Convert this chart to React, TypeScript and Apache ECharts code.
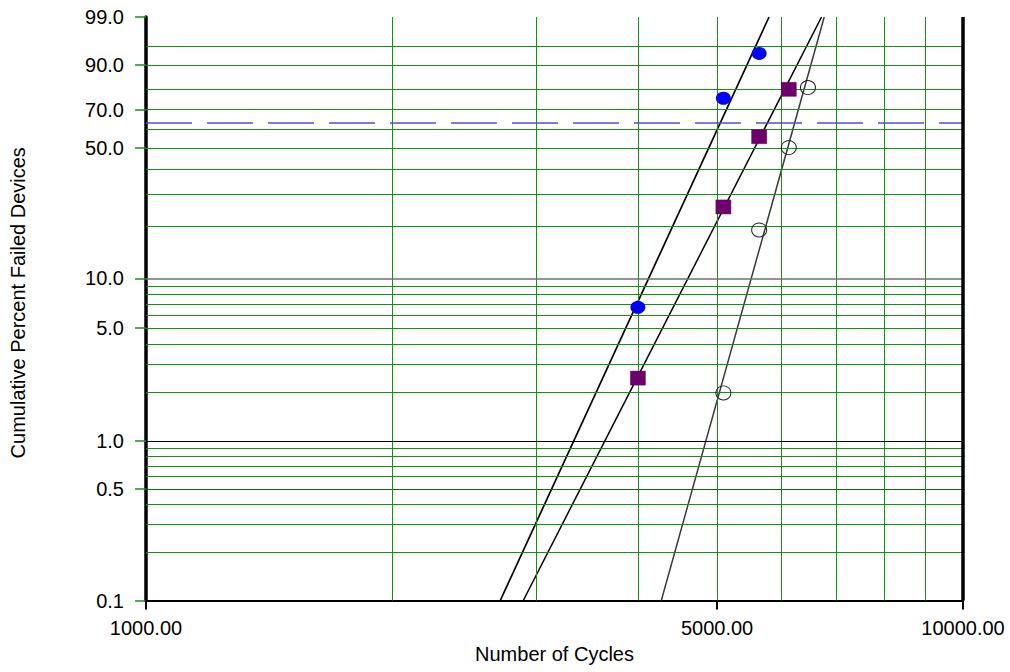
import React, { useEffect, useRef } from "react";
import * as echarts from "echarts";

// Observed data (cycles, cumulative percent failed)
const blueCycles = [4000, 5090, 5630];
const bluePct = [6.7, 75.9, 93.4];
const purpleCycles = [4000, 5090, 5630, 6120];
const purplePct = [2.46, 25.6, 55.8, 80.2];
const openCycles = [5090, 5630, 6120, 6460];
const openPct = [1.99, 19.1, 50.2, 81.0];

// Fitted Weibull lines, endpoints at 0.1% and 99%
const fitPct = [0.1, 99];
const blueFitCycles = [2714, 5789];
const purpleFitCycles = [2896, 6712];
const openFitCycles = [4273, 6763];

// Axis ticks / grid
const yTickPct = [0.1, 0.5, 1, 5, 10, 50, 70, 90, 99];
const xTickCycles = [1000, 5000, 10000];
const hGridPct = [95, 90, 80, 70, 60, 50, 40, 30, 20, 9, 8, 7, 6, 5, 4, 3, 2, 0.9, 0.8, 0.7, 0.6, 0.4, 0.3, 0.2];
const vGridCycles = [2000, 3000, 4000, 5000, 6000, 7000, 8000, 9000];
const charLifePct = 63.2;

const w = (p: number) => Math.log(-Math.log(1 - p / 100));
const invW = (v: number) => 100 * (1 - Math.exp(-Math.exp(v)));

const FONT = "'Liberation Sans', Arial, sans-serif";
const GREEN = "#159015";

export default function App() {
  const ref = useRef<HTMLDivElement>(null);
  useEffect(() => {
    if (!ref.current) return;
    const chart = echarts.init(ref.current, undefined, { renderer: "svg" });
    const green = (width = 1, color = GREEN) => ({ color, width, type: "solid" as const });
    const markData: any[] = [
      ...hGridPct.map((p) => ({ yAxis: w(p), lineStyle: green() })),
      { yAxis: w(0.5), lineStyle: green(1, "#0c6a0c") },
      ...vGridCycles.map((c) => ({ xAxis: c, lineStyle: green() })),
      { yAxis: w(10), lineStyle: { color: "#707070", width: 1.5, type: "solid" } },
      { yAxis: w(1), lineStyle: { color: "#000000", width: 1, type: "solid" } },
      { yAxis: w(charLifePct), lineStyle: { color: "#5252cc", width: 1.5, type: [46, 15] } },
      { yAxis: w(99), lineStyle: { color: "#0a4a0a", width: 2.5, type: "solid" } },
      { xAxis: 10000, lineStyle: { color: "#000000", width: 3.5, type: "solid" } },
    ];
    const fitLine = (cyc: number[], color: string, width: number) => ({
      type: "line",
      data: cyc.map((c, i) => [c, w(fitPct[i])]),
      showSymbol: false,
      symbol: "none",
      lineStyle: { color, width },
      z: 3,
      silent: true,
    });
    chart.setOption({
      animation: false,
      backgroundColor: "#ffffff",
      grid: { left: 146, right: 47, top: 17, bottom: 71.5, containLabel: false },
      xAxis: {
        type: "log",
        logBase: 10,
        min: 1000,
        max: 10000,
        name: "Number of Cycles",
        nameLocation: "middle",
        nameGap: 43,
        nameTextStyle: { fontFamily: FONT, fontSize: 20, color: "#000" },
        axisLine: { show: true, onZero: false, lineStyle: { color: "#000", width: 2 } },
        axisTick: { show: true, length: 9, customValues: xTickCycles, lineStyle: { color: "#000", width: 2 } },
        axisLabel: {
          customValues: xTickCycles,
          margin: 17,
          fontFamily: FONT,
          fontSize: 20,
          color: "#000",
          formatter: (v: number) => Number(v).toFixed(2),
        },
        splitLine: { show: false },
        minorTick: { show: false },
      },
      yAxis: {
        type: "value",
        min: w(0.1),
        max: w(99),
        name: "Cumulative Percent Failed Devices",
        nameLocation: "middle",
        nameGap: 118,
        nameTextStyle: { fontFamily: FONT, fontSize: 20, color: "#000", padding: [0, 0, 0, 12] },
        axisLine: { show: true, onZero: false, lineStyle: { color: "#000", width: 3.5 } },
        axisTick: { show: true, length: 11, customValues: yTickPct.map(w), lineStyle: { color: GREEN, width: 1.5 } },
        axisLabel: {
          customValues: yTickPct.map(w),
          margin: 22,
          fontFamily: FONT,
          fontSize: 20,
          color: "#000",
          formatter: (v: number) => invW(v).toFixed(1),
        },
        splitLine: { show: false },
      },
      series: [
        {
          type: "line",
          data: [],
          z: 1,
          silent: true,
          clip: false,
          markLine: {
            silent: true,
            symbol: ["none", "none"],
            label: { show: false },
            emphasis: { disabled: true },
            animation: false,
            data: markData,
          },
        },
        fitLine(blueFitCycles, "#000000", 1.7),
        fitLine(purpleFitCycles, "#000000", 1.5),
        fitLine(openFitCycles, "#3a3a3a", 1.5),
        {
          type: "scatter",
          data: blueCycles.map((c, i) => [c, w(bluePct[i])]),
          symbol: "circle",
          symbolSize: [15, 13],
          itemStyle: { color: "#0000ff", opacity: 1 },
          z: 5,
        },
        {
          type: "scatter",
          data: purpleCycles.map((c, i) => [c, w(purplePct[i])]),
          symbol: "rect",
          symbolSize: [15, 14],
          itemStyle: { color: "#6e006e", borderColor: "#4a004a", borderWidth: 0.5, opacity: 1 },
          z: 5,
        },
        {
          type: "scatter",
          data: openCycles.map((c, i) => [c, w(openPct[i])]),
          symbol: "circle",
          symbolSize: [15, 14],
          itemStyle: { color: "rgba(0,0,0,0)", borderColor: "#222222", borderWidth: 1, opacity: 1 },
          z: 5,
        },
      ],
    });
    return () => chart.dispose();
  }, []);
  return (
    <div
      ref={ref}
      style={{ position: "fixed", left: 0, top: 0, width: 1010, height: 672, background: "#fff" }}
    />
  );
}
